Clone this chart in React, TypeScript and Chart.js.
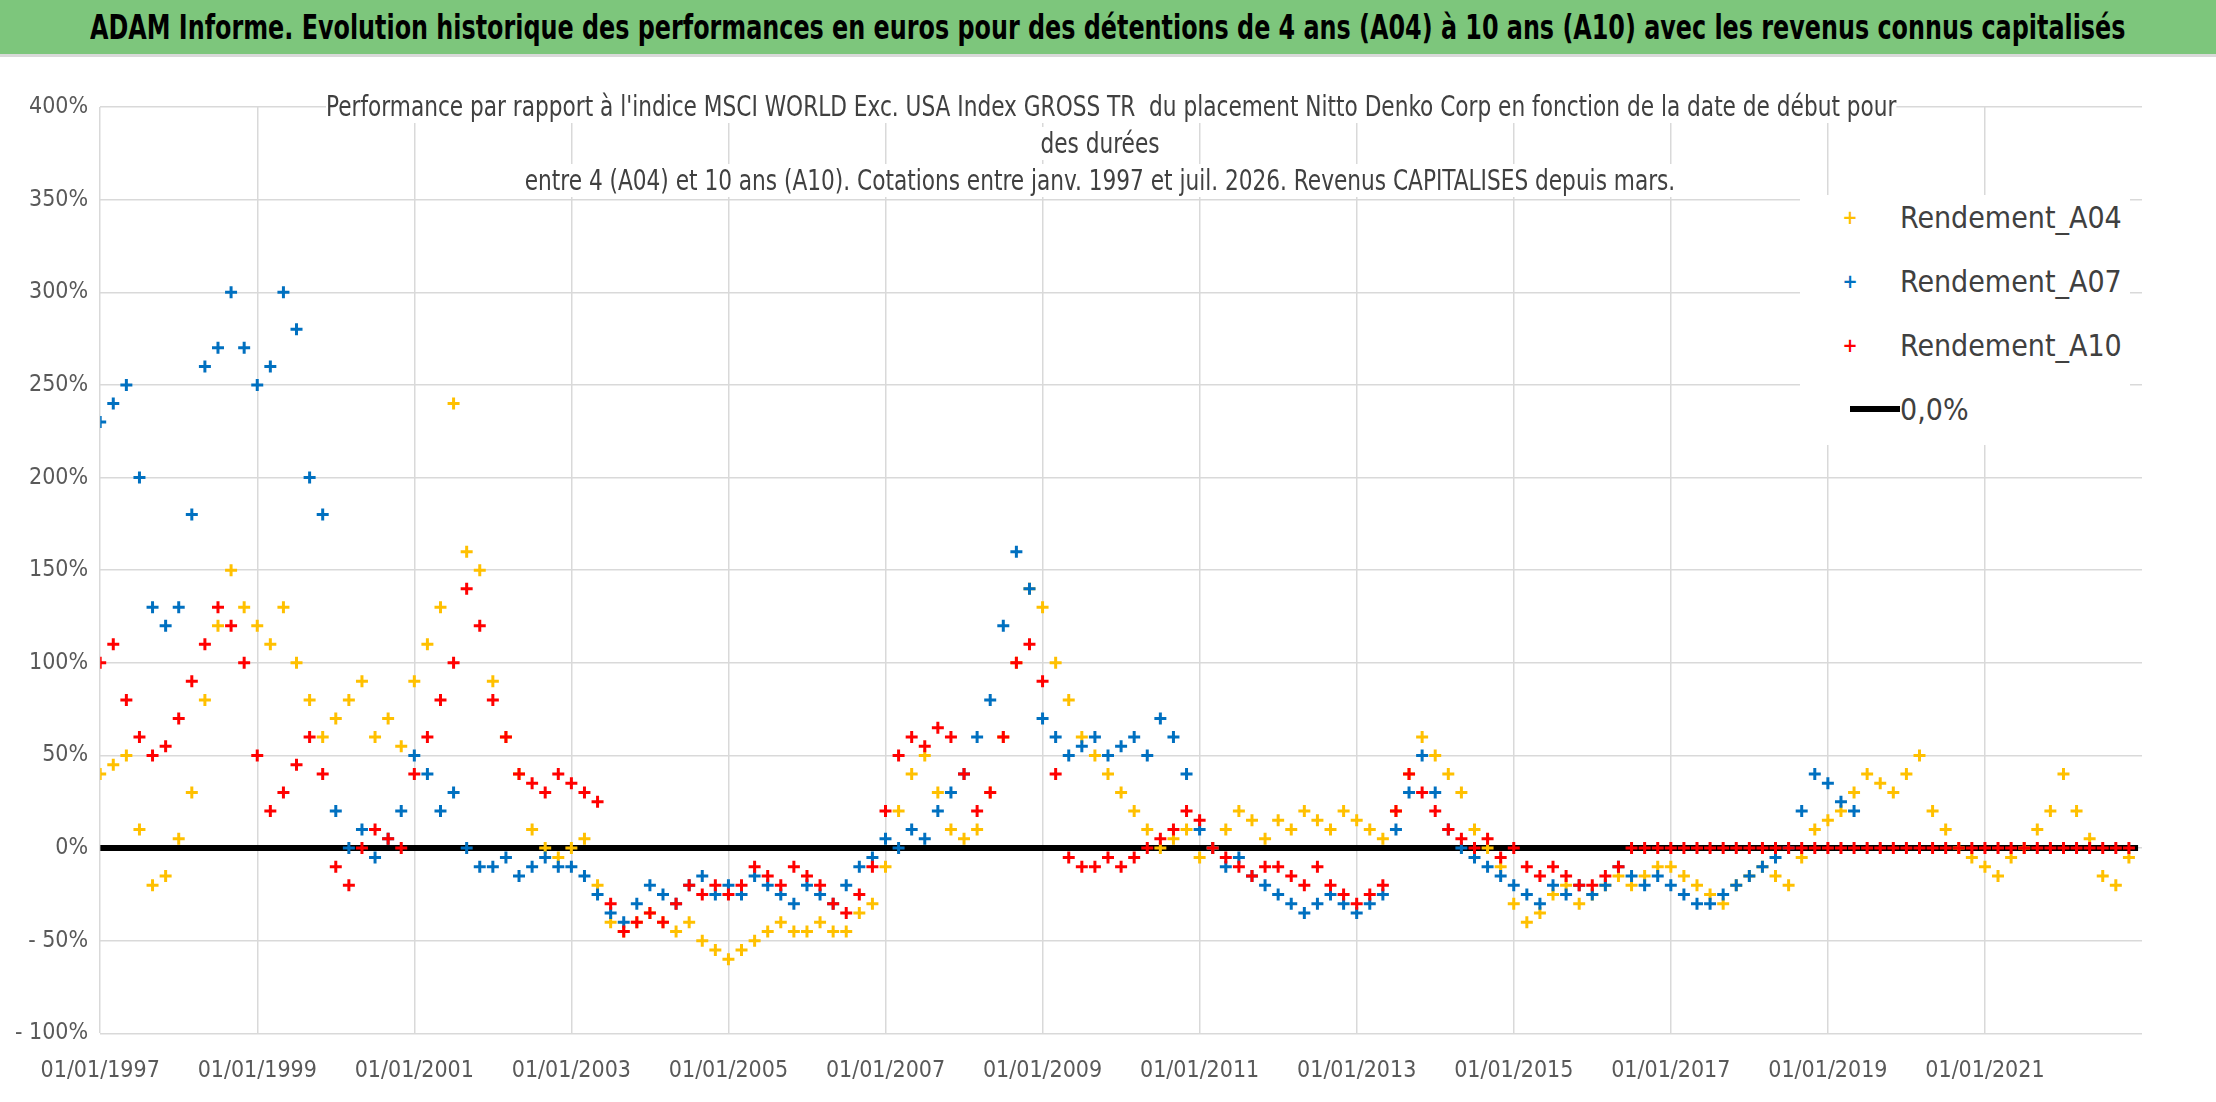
import React, { useEffect, useRef } from "react";
import { Chart, registerables } from "chart.js";
Chart.register(...registerables);

const START_YEAR = 1997;
const STEP = 1 / 6;
const xTicksLabelYears = [1997, 1999, 2001, 2003, 2005, 2007, 2009, 2011, 2013, 2015, 2017, 2019, 2021];

const a04 = [
  40, 45, 50, 10, -20, -15,
  5, 30, 80, 120, 150, 130,
  120, 110, 130, 100, 80, 60,
  70, 80, 90, 60, 70, 55,
  90, 110, 130, 240, 160, 150,
  90, 60, 40, 10, 0, -5,
  0, 5, -20, -40, -45, -40,
  -35, -40, -45, -40, -50, -55,
  -60, -55, -50, -45, -40, -45,
  -45, -40, -45, -45, -35, -30,
  -10, 20, 40, 50, 30, 10,
  5, 10, 30, 60, 100, 140,
  130, 100, 80, 60, 50, 40,
  30, 20, 10, 0, 5, 10,
  -5, 0, 10, 20, 15, 5,
  15, 10, 20, 15, 10, 20,
  15, 10, 5, 20, 40, 60,
  50, 40, 30, 10, 0, -10,
  -30, -40, -35, -25, -20, -30,
  -25, -20, -15, -20, -15, -10,
  -10, -15, -20, -25, -30, -20,
  -15, -10, -15, -20, -5, 10,
  15, 20, 30, 40, 35, 30,
  40, 50, 20, 10, 0, -5,
  -10, -15, -5, 0, 10, 20,
  40, 20, 5, -15, -20, -5,
];
const a07 = [
  230, 240, 250, 200, 130, 120,
  130, 180, 260, 270, 300, 270,
  250, 260, 300, 280, 200, 180,
  20, 0, 10, -5, 5, 20,
  50, 40, 20, 30, 0, -10,
  -10, -5, -15, -10, -5, -10,
  -10, -15, -25, -35, -40, -30,
  -20, -25, -30, -20, -15, -25,
  -20, -25, -15, -20, -25, -30,
  -20, -25, -30, -20, -10, -5,
  5, 0, 10, 5, 20, 30,
  40, 60, 80, 120, 160, 140,
  70, 60, 50, 55, 60, 50,
  55, 60, 50, 70, 60, 40,
  10, 0, -10, -5, -15, -20,
  -25, -30, -35, -30, -25, -30,
  -35, -30, -25, 10, 30, 50,
  30, 10, 0, -5, -10, -15,
  -20, -25, -30, -20, -25, -20,
  -25, -20, -10, -15, -20, -15,
  -20, -25, -30, -30, -25, -20,
  -15, -10, -5, 0, 20, 40,
  35, 25, 20,
];
const a10 = [
  100, 110, 80, 60, 50, 55,
  70, 90, 110, 130, 120, 100,
  50, 20, 30, 45, 60, 40,
  -10, -20, 0, 10, 5, 0,
  40, 60, 80, 100, 140, 120,
  80, 60, 40, 35, 30, 40,
  35, 30, 25, -30, -45, -40,
  -35, -40, -30, -20, -25, -20,
  -25, -20, -10, -15, -20, -10,
  -15, -20, -30, -35, -25, -10,
  20, 50, 60, 55, 65, 60,
  40, 20, 30, 60, 100, 110,
  90, 40, -5, -10, -10, -5,
  -10, -5, 0, 5, 10, 20,
  15, 0, -5, -10, -15, -10,
  -10, -15, -20, -10, -20, -25,
  -30, -25, -20, 20, 40, 30,
  20, 10, 5, 0, 5, -5,
  0, -10, -15, -10, -15, -20,
  -20, -15, -10, 0, 0, 0,
  0, 0, 0, 0, 0, 0,
  0, 0, 0, 0, 0, 0,
  0, 0, 0, 0, 0, 0,
  0, 0, 0, 0, 0, 0,
  0, 0, 0, 0, 0, 0,
  0, 0, 0, 0, 0, 0,
];
const zeroLine = [
  { x: 1997, y: 0 },
  { x: 2022.95, y: 0 },
];

const toPoints = (vals: number[]) => vals.map((v, i) => ({ x: START_YEAR + i * STEP, y: v }));

const FONT = "'Liberation Sans Narrow', 'DejaVu Sans Condensed', Arial, sans-serif";

export default function App() {
  const ref = useRef<HTMLCanvasElement>(null);
  useEffect(() => {
    const cross = (color: string) => ({
      type: "scatter" as const,
      pointStyle: "cross",
      pointRadius: 6,
      borderWidth: 3,
      borderColor: color,
      backgroundColor: color,
      showLine: false,
    });
    const chart = new Chart(ref.current!, {
      type: "scatter",
      data: {
        datasets: [
          { label: "0,0%", data: zeroLine, type: "line", borderColor: "#000", borderWidth: 6, pointRadius: 0, showLine: true, order: 10 } as any,
          { label: "Rendement_A04", data: toPoints(a04), ...cross("#ffc000"), order: 3 },
          { label: "Rendement_A07", data: toPoints(a07), ...cross("#0070c0"), order: 2 },
          { label: "Rendement_A10", data: toPoints(a10), ...cross("#ff0000"), order: 1 },
        ],
      },
      options: {
        animation: false,
        responsive: false,
        maintainAspectRatio: false,
        layout: { padding: { left: 3, right: 58, top: 50, bottom: 0 } },
        plugins: { legend: { display: false }, tooltip: { enabled: false } },
        scales: {
          x: {
            type: "linear",
            min: 1997,
            max: 2023,
            afterBuildTicks: (ax: any) => {
              ax.ticks = xTicksLabelYears.map((v) => ({ value: v }));
            },
            ticks: {
              callback: (v: any) => "01/01/" + v,
              color: "#595959",
              font: { family: FONT, size: 23 },
              maxRotation: 0,
              padding: 24,
            },
            grid: { color: "#d9d9d9", lineWidth: 1.5, drawTicks: false },
            border: { display: false },
          },
          y: {
            min: -100,
            max: 400,
            ticks: {
              stepSize: 50,
              callback: (v: any) => (v < 0 ? "- " + Math.abs(v) + "%" : v + "%"),
              color: "#595959",
              font: { family: FONT, size: 23 },
              padding: 12,
            },
            grid: { color: "#d9d9d9", lineWidth: 1.5, drawTicks: false },
            border: { display: false },
          },
        },
      },
    });
    return () => chart.destroy();
  }, []);

  const legendItems = [
    { label: "Rendement_A04", color: "#ffc000" },
    { label: "Rendement_A07", color: "#0070c0" },
    { label: "Rendement_A10", color: "#ff0000" },
  ];

  const line = { background: "#fff", whiteSpace: "nowrap" as const };

  return (
    <div style={{ position: "absolute", left: 0, top: 0, width: 2216, height: 1102, background: "#fff", overflow: "hidden", fontFamily: FONT }}>
      <div style={{ position: "absolute", left: 0, top: 0, width: 2216, height: 54, background: "#7dc67c", borderBottom: "3px solid #d9d9d9", display: "flex", alignItems: "center", justifyContent: "center", color: "#000", whiteSpace: "nowrap" }}>
        <span style={{ fontWeight: "bold", fontSize: 34, display: "inline-block", transform: "scaleX(0.78)", transformOrigin: "center" }}>
          ADAM Informe. Evolution historique des performances en euros pour des détentions de 4 ans (A04) à 10 ans (A10) avec les revenus connus capitalisés
        </span>
      </div>
      <canvas ref={ref} width={2200} height={1052} style={{ position: "absolute", left: 0, top: 57, width: 2200, height: 1052 }} />
      <div style={{ position: "absolute", left: 200, top: 88, width: 1800, textAlign: "center", fontSize: 28, lineHeight: "37px", color: "#404040" }}>
        <div style={{ transform: "scaleX(0.86)" }}>
          <span style={line}>Performance par rapport à l'indice MSCI WORLD Exc. USA Index GROSS TR &nbsp;du placement Nitto Denko Corp en fonction de la date de début pour</span>
          <br />
          <span style={line}>des durées</span>
          <br />
          <span style={line}>entre 4 (A04) et 10 ans (A10). Cotations entre janv. 1997 et juil. 2026. Revenus CAPITALISES depuis mars.</span>
        </div>
      </div>
      <div style={{ position: "absolute", left: 1800, top: 195, width: 330, height: 250, background: "#fff" }}>
        {legendItems.map((it, i) => (
          <div key={i} style={{ position: "absolute", left: 0, top: i * 64, height: 44, display: "flex", alignItems: "center", fontSize: 30, color: "#404040" }}>
            <span style={{ width: 100, textAlign: "center", color: it.color, fontSize: 20, fontWeight: "bold" }}>+</span>
            <span>{it.label}</span>
          </div>
        ))}
        <div style={{ position: "absolute", left: 0, top: 192, height: 44, display: "flex", alignItems: "center", fontSize: 30, color: "#404040" }}>
          <span style={{ display: "inline-block", width: 50, height: 6, background: "#000", marginLeft: 50 }} />
          <span>0,0%</span>
        </div>
      </div>
    </div>
  );
}
